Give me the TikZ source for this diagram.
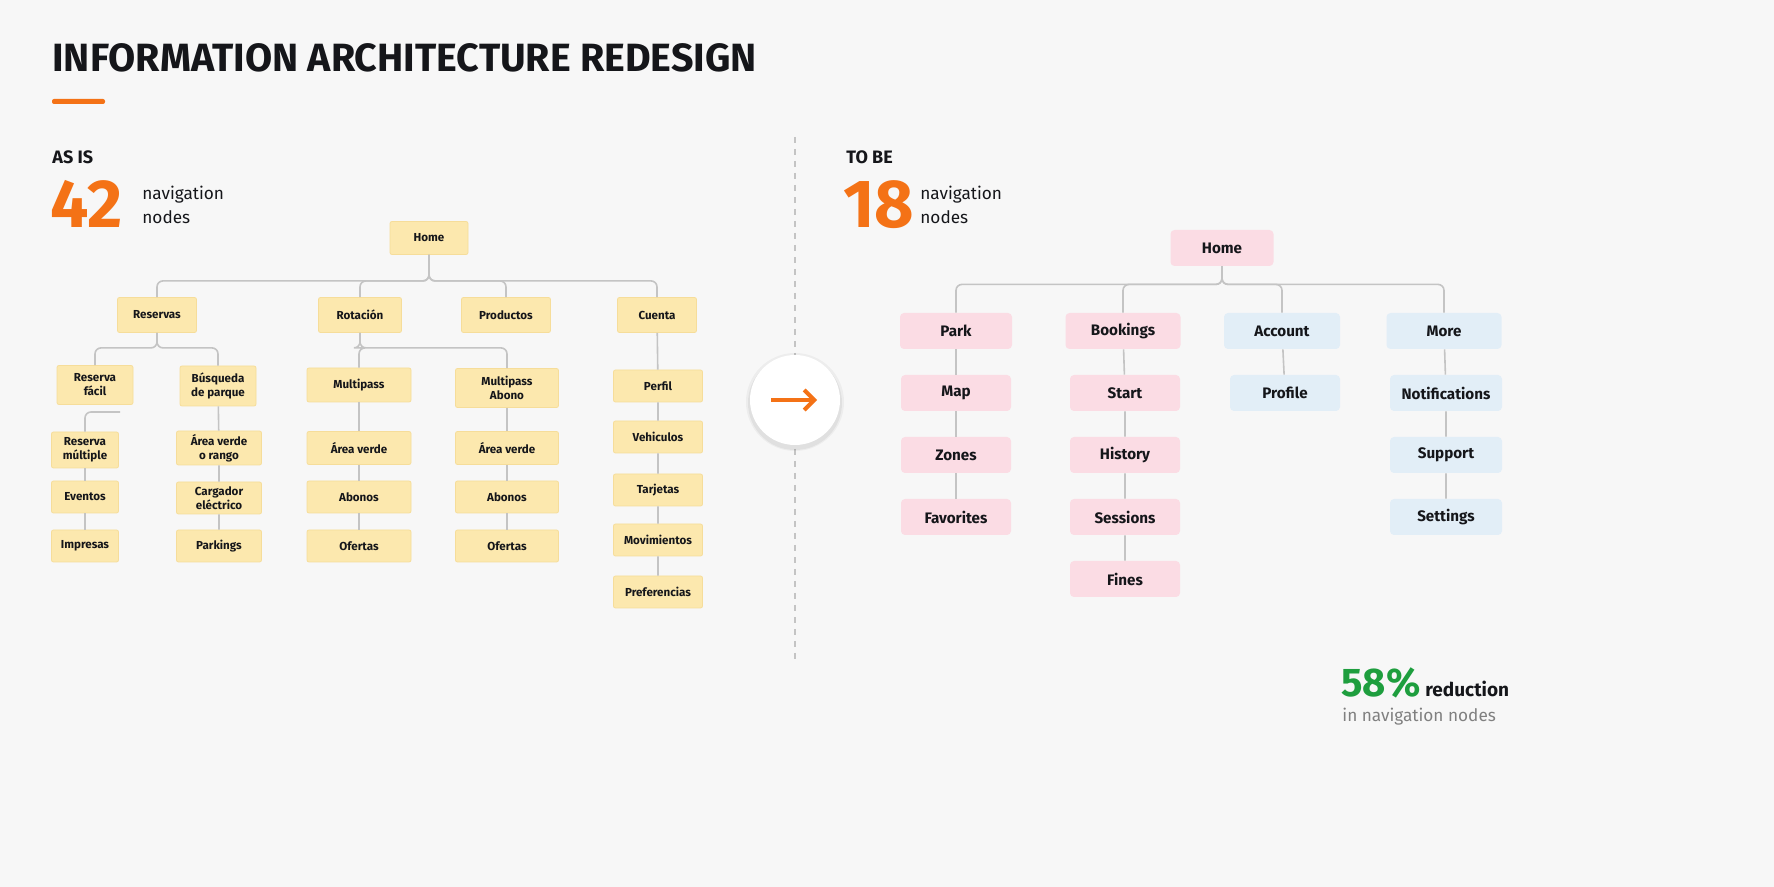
\documentclass[tikz,border=0pt]{standalone}
\usepackage{fontspec}
\setmainfont{Fira Sans}
\usetikzlibrary{arrows.meta}
\definecolor{bgcol}{HTML}{F7F7F7}
\definecolor{accent}{HTML}{F47216}
\definecolor{ink}{HTML}{15161A}
\definecolor{yfill}{HTML}{FCE8AE}
\definecolor{ybord}{HTML}{F6DD9A}
\definecolor{pfill}{HTML}{FBDCE4}
\definecolor{bfill}{HTML}{E2EEF7}
\definecolor{linecol}{HTML}{C4C4C4}
\definecolor{okgreen}{HTML}{1E9E3E}
\begin{document}
\begin{tikzpicture}[x=0.5pt,y=-0.5pt,
    link/.style={draw=linecol,line width=0.8pt,rounded corners=3pt},
    old node/.style={draw=ybord,fill=yfill,rounded corners=1pt,align=center,inner sep=0pt,
        text=ink,font=\bfseries\fontsize{5.8}{7}\selectfont},
    new node/.style={fill=pfill,rounded corners=2pt,align=center,inner sep=0pt,
        text=ink,font=\bfseries\fontsize{7.6}{9}\selectfont,minimum height=18pt},
    blue node/.style={new node,fill=bfill}]
    \useasboundingbox[fill=bgcol] (0,0) rectangle (1774,887);

    % heading
    \node[anchor=base west,inner sep=0pt,text=ink,font=\bfseries\fontsize{19.7}{22}\selectfont] (title) at (52,72) {INFORMATION ARCHITECTURE REDESIGN};
    \fill[accent,rounded corners=1pt] (52,99) rectangle (105,104);
    \draw[linecol,dashed,line width=0.6pt] (795,137) -- (795,660);

    % counters
    \node[anchor=base west,inner sep=0pt,text=ink,font=\bfseries\fontsize{9}{10}\selectfont] (asis) at (52,164) {AS IS};
    \node[anchor=base west,inner sep=0pt,text=accent,font=\bfseries\fontsize{34}{34}\selectfont] (n42) at (50,228) {42};
    \node[anchor=west,align=left,inner sep=0pt,text=ink,font=\fontsize{8.6}{12}\selectfont] (lab42) at (142,205) {navigation\\nodes};
    \node[anchor=base west,inner sep=0pt,text=ink,font=\bfseries\fontsize{9}{10}\selectfont] (tobe) at (846,164) {TO BE};
    \node[anchor=base west,inner sep=0pt,text=accent,font=\bfseries\fontsize{34}{34}\selectfont] (n18) at (843,228) {18};
    \node[anchor=west,align=left,inner sep=0pt,text=ink,font=\fontsize{8.6}{12}\selectfont] (lab18) at (920,205) {navigation\\nodes};

    % as is tree
    \node[old node,minimum width=39pt,minimum height=16.5pt] (homeL) at (429,238) {Home};
    \node[old node,minimum width=39.5pt,minimum height=17.5pt] (res) at (157,315) {Reservas};
    \node[old node,minimum width=41.5pt,minimum height=17.5pt] (rot) at (360,315) {Rotación};
    \node[old node,minimum width=44.5pt,minimum height=17.5pt] (pro) at (506,315) {Productos};
    \node[old node,minimum width=39.5pt,minimum height=17.5pt] (cue) at (657,315) {Cuenta};

    \node[old node,minimum width=38pt,minimum height=19.5pt] (rfac) at (95,385) {Reserva\\fácil};
    \node[old node,minimum width=38pt,minimum height=20pt] (bus) at (218,386) {Búsqueda\\de parque};
    \node[old node,minimum width=33.5pt,minimum height=18pt] (rmul) at (85,450) {Reserva\\múltiple};
    \node[old node,minimum width=33.5pt,minimum height=16pt] (eve) at (85,497) {Eventos};
    \node[old node,minimum width=33.5pt,minimum height=16pt] (imp) at (85,546) {Impresas};
    \node[old node,minimum width=42.5pt,minimum height=17pt] (are) at (219,448) {Área verde\\o rango};
    \node[old node,minimum width=42.5pt,minimum height=16pt] (car) at (219,498) {Cargador\\eléctrico};
    \node[old node,minimum width=42.5pt,minimum height=16pt] (par) at (219,546) {Parkings};

    \node[old node,minimum width=52pt,minimum height=17pt] (mp) at (359,385) {Multipass};
    \node[old node,minimum width=52pt,minimum height=16.5pt] (mpa) at (359,448) {Área verde};
    \node[old node,minimum width=52pt,minimum height=16pt] (mpb) at (359,497) {Abonos};
    \node[old node,minimum width=52pt,minimum height=16pt] (mpc) at (359,546) {Ofertas};
    \node[old node,minimum width=51.5pt,minimum height=19.5pt] (ma) at (507,388) {Multipass\\Abono};
    \node[old node,minimum width=51.5pt,minimum height=16.5pt] (maa) at (507,448) {Área verde};
    \node[old node,minimum width=51.5pt,minimum height=16pt] (mab) at (507,497) {Abonos};
    \node[old node,minimum width=51.5pt,minimum height=16pt] (mac) at (507,546) {Ofertas};

    \node[old node,minimum width=44.5pt,minimum height=16pt] (per) at (658,386) {Perfil};
    \node[old node,minimum width=44.5pt,minimum height=16pt] (veh) at (658,437) {Vehiculos};
    \node[old node,minimum width=44.5pt,minimum height=16pt] (tar) at (658,490) {Tarjetas};
    \node[old node,minimum width=44.5pt,minimum height=16pt] (mov) at (658,540) {Movimientos};
    \node[old node,minimum width=44.5pt,minimum height=16pt] (pre) at (658,592) {Preferencias};

    \coordinate (stub) at (120,412);
    \foreach \c in {res,rot,pro,cue}
        \draw[link] (homeL.south) -- ++(0,26) -| (\c.north);
    \foreach \c in {rfac,bus}
        \draw[link] (res.south) -- ++(0,15) -| (\c.north);
    \foreach \c in {mp,ma}
        \draw[link] (rot.south) -- ++(0,15) -| (\c.north);
    \draw[link] (stub) -| (rmul.north);
    \draw[link] (rmul) -- (eve) (eve) -- (imp);
    \draw[link] (bus) -- (are) (are) -- (car) (car) -- (par);
    \draw[link] (mp) -- (mpa) (mpa) -- (mpb) (mpb) -- (mpc);
    \draw[link] (ma) -- (maa) (maa) -- (mab) (mab) -- (mac);
    \draw[link] (cue) -- (per) (per) -- (veh) (veh) -- (tar) (tar) -- (mov) (mov) -- (pre);

    % to be tree
    \node[new node,minimum width=51.5pt] (homeR) at (1222,248) {Home};
    \node[new node,minimum width=56pt] (park) at (956,331) {Park};
    \node[new node,minimum width=57.5pt] (book) at (1123,331) {Bookings};
    \node[blue node,minimum width=58pt] (acc) at (1282,331) {Account};
    \node[blue node,minimum width=57.5pt] (more) at (1444,331) {More};
    \node[new node,minimum width=55pt] (map) at (956,393) {Map};
    \node[new node,minimum width=55pt] (zon) at (956,455) {Zones};
    \node[new node,minimum width=55pt] (fav) at (956,517) {Favorites};
    \node[new node,minimum width=55pt] (sta) at (1125,393) {Start};
    \node[new node,minimum width=55pt] (his) at (1125,455) {History};
    \node[new node,minimum width=55pt] (ses) at (1125,517) {Sessions};
    \node[new node,minimum width=55pt] (fin) at (1125,579) {Fines};
    \node[blue node,minimum width=55pt] (prof) at (1285,393) {Profile};
    \node[blue node,minimum width=56pt] (not) at (1446,393) {Notifications};
    \node[blue node,minimum width=56pt] (sup) at (1446,455) {Support};
    \node[blue node,minimum width=56pt] (set) at (1446,517) {Settings};

    \foreach \c in {park,book,acc,more}
        \draw[link] (homeR.south) -- ++(0,18) -| (\c.north);
    \draw[link] (park) -- (map) (map) -- (zon) (zon) -- (fav);
    \draw[link] (book) -- (sta) (sta) -- (his) (his) -- (ses) (ses) -- (fin);
    \draw[link] (acc) -- (prof);
    \draw[link] (more) -- (not) (not) -- (sup) (sup) -- (set);

    % transition mark
    \fill[black,opacity=0.05] (795,403) circle (47);
    \fill[black,opacity=0.04] (795,402) circle (49);
    \node[circle,fill=white,minimum size=45pt,inner sep=0pt] (turn) at (795,400) {};
    \draw[accent,line width=2pt,-{Straight Barb[length=5pt,width=10pt,line width=2pt]}] (turn.center) ++(-24,0) -- ++(46,0);

    % result
    \node[anchor=base west,inner sep=0pt,text=okgreen,font=\bfseries\fontsize{20}{20}\selectfont] (pct) at (1341,697) {58\%};
    \node[anchor=base west,inner sep=0pt,text=ink,font=\bfseries\fontsize{9.5}{10}\selectfont] (red) at (1425,697) {reduction};
    \node[anchor=base west,inner sep=0pt,text=gray,font=\fontsize{8.6}{10}\selectfont] (in) at (1342,721) {in navigation nodes};
\end{tikzpicture}
\end{document}
